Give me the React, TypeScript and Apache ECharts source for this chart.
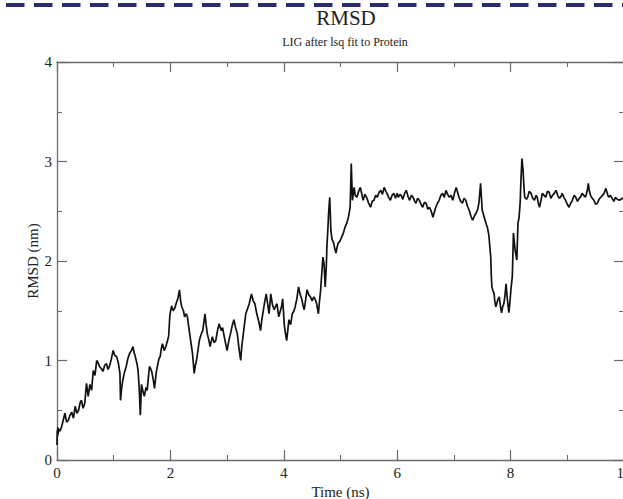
import { useEffect, useRef } from "react";
import * as echarts from "echarts";

// Ligand RMSD trajectory, [time (ns), RMSD (nm)]
const rmsd0to2 = [
  [0.0, 0.15], [0.005, 0.3], [0.01, 0.24], [0.015, 0.33], [0.02, 0.26], [0.03, 0.31], [0.05, 0.29],
  [0.08, 0.33], [0.11, 0.4], [0.14, 0.47], [0.17, 0.38], [0.2, 0.4], [0.23, 0.45], [0.26, 0.48],
  [0.29, 0.42], [0.32, 0.54], [0.35, 0.47], [0.38, 0.5], [0.41, 0.58], [0.43, 0.6], [0.46, 0.52],
  [0.49, 0.57], [0.52, 0.77], [0.55, 0.64], [0.58, 0.76], [0.61, 0.7], [0.64, 0.9], [0.67, 0.85],
  [0.7, 1.0], [0.73, 0.97], [0.75, 0.94], [0.78, 0.92], [0.81, 0.89], [0.84, 0.95], [0.87, 0.97],
  [0.9, 0.91], [0.93, 0.95], [0.96, 1.02], [0.99, 1.1], [1.02, 1.05], [1.05, 1.04], [1.08, 0.98],
  [1.11, 0.87], [1.12, 0.6], [1.14, 0.72], [1.16, 0.8], [1.19, 0.88], [1.22, 0.94], [1.25, 1.02],
  [1.28, 1.07], [1.31, 1.1], [1.34, 1.14], [1.36, 1.08], [1.38, 1.04], [1.41, 0.97], [1.43, 0.9],
  [1.45, 0.72], [1.47, 0.45], [1.49, 0.76], [1.52, 0.68], [1.54, 0.64], [1.57, 0.73], [1.59, 0.7],
  [1.61, 0.82], [1.63, 0.94], [1.65, 0.92], [1.67, 0.89], [1.7, 0.8], [1.72, 0.72], [1.75, 0.88],
  [1.78, 0.97], [1.8, 1.02], [1.82, 1.04], [1.84, 1.12], [1.86, 1.17], [1.89, 1.1], [1.92, 1.14],
  [1.95, 1.2], [1.97, 1.25], [1.99, 1.45],
];

const rmsd2to4 = [
  [2.02, 1.55], [2.05, 1.5], [2.08, 1.53], [2.1, 1.57], [2.13, 1.62], [2.16, 1.71], [2.18, 1.6],
  [2.2, 1.54], [2.23, 1.5], [2.25, 1.44], [2.28, 1.47], [2.3, 1.44], [2.32, 1.35], [2.34, 1.27],
  [2.37, 1.15], [2.39, 1.07], [2.42, 0.87], [2.44, 0.95], [2.46, 1.0], [2.49, 1.12], [2.51, 1.2],
  [2.54, 1.26], [2.57, 1.3], [2.59, 1.38], [2.61, 1.47], [2.63, 1.36], [2.65, 1.27], [2.68, 1.2],
  [2.7, 1.14], [2.72, 1.19], [2.74, 1.24], [2.77, 1.18], [2.8, 1.2], [2.83, 1.3], [2.86, 1.37],
  [2.88, 1.33], [2.9, 1.3], [2.92, 1.33], [2.94, 1.27], [2.97, 1.18], [3.0, 1.1], [3.03, 1.2],
  [3.06, 1.27], [3.09, 1.35], [3.12, 1.41], [3.15, 1.33], [3.18, 1.27], [3.21, 1.12], [3.24, 1.0],
  [3.26, 1.15], [3.28, 1.24], [3.31, 1.38], [3.33, 1.47], [3.36, 1.52], [3.39, 1.57], [3.41, 1.62],
  [3.43, 1.67], [3.46, 1.6], [3.49, 1.57], [3.52, 1.48], [3.55, 1.41], [3.57, 1.36], [3.59, 1.3],
  [3.61, 1.4], [3.63, 1.47], [3.66, 1.58], [3.69, 1.67], [3.72, 1.55], [3.74, 1.47], [3.76, 1.6],
  [3.77, 1.67], [3.8, 1.56], [3.83, 1.51], [3.86, 1.55], [3.88, 1.57], [3.91, 1.44], [3.94, 1.5],
  [3.96, 1.54], [3.98, 1.62],
];

const rmsd4to6 = [
  [4.01, 1.35], [4.03, 1.27], [4.05, 1.2], [4.07, 1.3], [4.09, 1.41], [4.12, 1.36], [4.15, 1.47],
  [4.18, 1.5], [4.2, 1.54], [4.23, 1.62], [4.26, 1.74], [4.29, 1.66], [4.32, 1.61], [4.34, 1.55],
  [4.36, 1.51], [4.39, 1.63], [4.41, 1.71], [4.44, 1.66], [4.47, 1.64], [4.5, 1.6], [4.53, 1.64],
  [4.55, 1.62], [4.58, 1.57], [4.61, 1.47], [4.63, 1.6], [4.65, 1.71], [4.67, 1.88], [4.69, 2.04],
  [4.71, 1.97], [4.73, 1.74], [4.75, 1.95], [4.76, 2.14], [4.78, 2.35], [4.79, 2.48], [4.81, 2.64],
  [4.83, 2.31], [4.85, 2.22], [4.88, 2.18], [4.9, 2.12], [4.92, 2.08], [4.94, 2.14], [4.96, 2.18],
  [4.99, 2.2], [5.02, 2.24], [5.05, 2.28], [5.08, 2.34], [5.11, 2.38], [5.14, 2.44], [5.17, 2.54],
  [5.19, 2.98], [5.21, 2.61], [5.24, 2.74], [5.26, 2.66], [5.29, 2.64], [5.32, 2.7], [5.35, 2.74],
  [5.38, 2.66], [5.4, 2.61], [5.43, 2.67], [5.46, 2.64], [5.49, 2.59], [5.53, 2.54], [5.56, 2.6],
  [5.59, 2.61], [5.62, 2.66], [5.65, 2.64], [5.68, 2.69], [5.71, 2.71], [5.74, 2.67], [5.77, 2.74],
  [5.8, 2.7], [5.82, 2.68], [5.85, 2.64], [5.88, 2.61], [5.91, 2.66], [5.94, 2.68], [5.97, 2.63],
  [6.0, 2.68],
];

const rmsd6to8 = [
  [6.02, 2.64], [6.05, 2.67], [6.07, 2.66], [6.1, 2.62], [6.13, 2.68], [6.16, 2.71], [6.19, 2.65],
  [6.22, 2.61], [6.25, 2.66], [6.28, 2.64], [6.31, 2.6], [6.33, 2.58], [6.36, 2.63], [6.39, 2.61],
  [6.42, 2.57], [6.45, 2.54], [6.48, 2.59], [6.51, 2.58], [6.54, 2.52], [6.57, 2.54], [6.6, 2.5],
  [6.63, 2.44], [6.66, 2.5], [6.68, 2.54], [6.71, 2.58], [6.74, 2.61], [6.77, 2.66], [6.8, 2.68],
  [6.83, 2.64], [6.86, 2.71], [6.89, 2.67], [6.92, 2.64], [6.95, 2.66], [6.98, 2.61], [7.01, 2.68],
  [7.04, 2.74], [7.07, 2.68], [7.09, 2.64], [7.12, 2.6], [7.15, 2.58], [7.18, 2.63], [7.21, 2.61],
  [7.24, 2.55], [7.27, 2.51], [7.3, 2.45], [7.33, 2.41], [7.36, 2.45], [7.39, 2.48], [7.42, 2.52],
  [7.44, 2.58], [7.46, 2.7], [7.47, 2.78], [7.49, 2.6], [7.5, 2.51], [7.53, 2.45], [7.55, 2.41],
  [7.57, 2.37], [7.59, 2.34], [7.61, 2.28], [7.62, 2.24], [7.64, 2.1], [7.65, 2.04], [7.66, 1.85],
  [7.67, 1.74], [7.69, 1.7], [7.71, 1.67], [7.72, 1.6], [7.74, 1.54], [7.76, 1.58], [7.78, 1.62],
  [7.8, 1.64], [7.82, 1.55], [7.84, 1.48], [7.86, 1.54], [7.88, 1.57], [7.9, 1.65], [7.92, 1.77],
  [7.94, 1.63], [7.97, 1.48], [7.99, 1.6],
];

const rmsd8to10 = [
  [8.01, 1.74], [8.03, 1.84], [8.05, 2.28], [8.08, 2.11], [8.11, 2.01], [8.13, 2.38], [8.15, 2.44],
  [8.17, 2.6], [8.18, 2.78], [8.2, 3.03], [8.22, 2.91], [8.24, 2.7], [8.25, 2.64], [8.28, 2.62],
  [8.3, 2.64], [8.33, 2.7], [8.36, 2.68], [8.39, 2.63], [8.42, 2.61], [8.45, 2.66], [8.47, 2.64],
  [8.49, 2.58], [8.51, 2.54], [8.54, 2.62], [8.56, 2.68], [8.59, 2.66], [8.62, 2.64], [8.65, 2.7],
  [8.68, 2.69], [8.71, 2.63], [8.74, 2.66], [8.77, 2.68], [8.8, 2.71], [8.83, 2.66], [8.86, 2.63],
  [8.89, 2.65], [8.91, 2.68], [8.94, 2.64], [8.97, 2.61], [9.0, 2.57], [9.03, 2.54], [9.06, 2.58],
  [9.09, 2.61], [9.12, 2.66], [9.15, 2.64], [9.18, 2.6], [9.21, 2.63], [9.24, 2.65], [9.26, 2.68],
  [9.29, 2.66], [9.32, 2.64], [9.35, 2.7], [9.37, 2.78], [9.39, 2.7], [9.41, 2.66], [9.44, 2.63],
  [9.47, 2.61], [9.5, 2.57], [9.53, 2.58], [9.56, 2.62], [9.59, 2.64], [9.62, 2.66], [9.65, 2.68],
  [9.68, 2.73], [9.71, 2.67], [9.73, 2.64], [9.76, 2.66], [9.79, 2.63], [9.82, 2.6], [9.85, 2.64],
  [9.88, 2.62], [9.92, 2.61], [9.96, 2.63], [10.0, 2.62],
];

const trajectory = [...rmsd0to2, ...rmsd2to4, ...rmsd4to6, ...rmsd6to8, ...rmsd8to10];

const SERIF = '"Liberation Serif", "DejaVu Serif", "Times New Roman", serif';
const AXIS_GRAY = "#6a6a6a";
const TEXT = "#222";

export default function App() {
  const ref = useRef<HTMLDivElement>(null);

  useEffect(() => {
    if (!ref.current) return;
    const chart = echarts.init(ref.current, undefined, { renderer: "svg" });

    const frameAxis = (showLabels: boolean) => ({
      axisLine: { show: true, onZero: false, lineStyle: { color: AXIS_GRAY, width: 1.3 } },
      axisTick: { show: true, inside: true, length: 10, lineStyle: { color: AXIS_GRAY, width: 1.2 } },
      minorTick: { show: true, splitNumber: 2, length: 5, lineStyle: { color: AXIS_GRAY, width: 1 } },
      splitLine: { show: false },
      axisLabel: {
        show: showLabels,
        fontFamily: SERIF,
        fontSize: 15,
        color: TEXT,
        margin: 5,
      },
    });

    chart.setOption({
      animation: false,
      backgroundColor: "#ffffff",
      title: [
        {
          text: "RMSD",
          left: 346,
          top: 7,
          textAlign: "center",
          padding: 0,
          textStyle: { fontFamily: SERIF, fontSize: 21, fontWeight: "normal", color: TEXT },
        },
        {
          text: "LIG after lsq fit to Protein",
          left: 345,
          top: 36,
          textAlign: "center",
          padding: 0,
          textStyle: { fontFamily: SERIF, fontSize: 12, fontWeight: "normal", color: TEXT },
        },
      ],
      grid: { left: 57, right: -1, top: 62, bottom: 39, containLabel: false, outerBoundsMode: "none" },
      xAxis: [
        {
          type: "value",
          min: 0,
          max: 10,
          interval: 2,
          position: "bottom",
          name: "Time (ns)",
          nameLocation: "middle",
          nameGap: 18,
          nameTextStyle: { fontFamily: SERIF, fontSize: 15, color: TEXT },
          ...frameAxis(true),
        },
        {
          type: "value",
          min: 0,
          max: 10,
          interval: 2,
          position: "top",
          ...frameAxis(false),
        },
      ],
      yAxis: [
        {
          type: "value",
          min: 0,
          max: 4,
          interval: 1,
          position: "left",
          name: "RMSD (nm)",
          nameLocation: "middle",
          nameGap: 17,
          nameMoveOverlap: false,
          nameTextStyle: { fontFamily: SERIF, fontSize: 15, color: TEXT },
          ...frameAxis(true),
        },
        {
          type: "value",
          min: 0,
          max: 4,
          interval: 1,
          position: "right",
          ...frameAxis(false),
        },
      ],
      graphic: [
        {
          type: "line",
          shape: { x1: 6, y1: 5, x2: 623, y2: 5 },
          style: { stroke: "#2b2b70", lineWidth: 4, lineDash: [18.5, 9.5] },
          silent: true,
        },
      ],
      series: [
        {
          type: "line",
          xAxisIndex: 0,
          yAxisIndex: 0,
          data: trajectory,
          showSymbol: false,
          smooth: false,
          lineStyle: { color: "#111", width: 1.7 },
        },
      ],
    });

    return () => chart.dispose();
  }, []);

  return (
    <div
      ref={ref}
      style={{ position: "fixed", left: 0, top: 0, width: 623, height: 499, background: "#fff" }}
    />
  );
}
